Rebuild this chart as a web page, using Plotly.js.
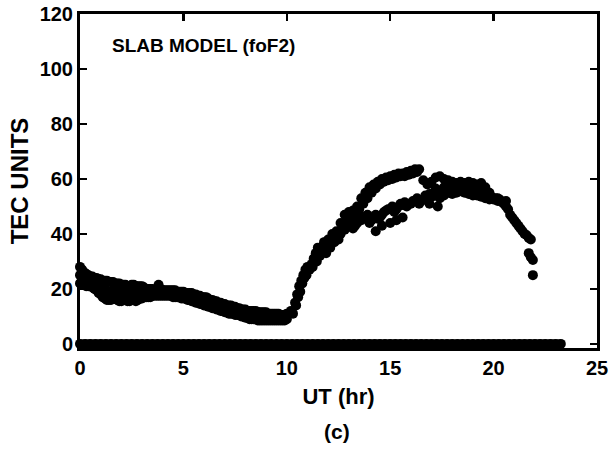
<!DOCTYPE html>
<html>
<head>
<meta charset="utf-8">
<script src="https://cdn.plot.ly/plotly-3.0.1.min.js"></script>
<style>
html,body{margin:0;padding:0;background:#fff;}
.xtick text, .ytick text, .xtick tspan, .ytick tspan { font-weight: 700 !important; }
</style>
</head>
<body>
<div id="chart" style="width:616px;height:468px;"></div>
<script>
// Early band (0-10 hr): upper, middle, lower rows
const earlyHr    = [0,0.2,0.4,0.6,0.8,1.0,1.2,1.4,1.6,1.8,2.0,2.2,2.4,2.6,2.8,3.0,3.2,3.4,3.6,3.8,4.0,4.2,4.4,4.6,4.8,5.0,5.2,5.4,5.6,5.8,6.0,6.2,6.4,6.6,6.8,7.0,7.2,7.4,7.6,7.8,8.0,8.2,8.4,8.6,8.8,9.0,9.2,9.4,9.6,9.8,10.0];
const earlyUpper = [28,26,25,24.5,24,23.5,23,22.5,22.5,22,21.5,21.5,21,21.5,21,21,20,20,19.5,21.5,19.5,19.5,19.5,19.5,19,19,18.5,18.5,18,17.5,17,16.5,16,15.5,15,14.5,14,13.5,13,12.5,12.5,12,12,11.5,11.5,11.5,11,11,11,10.5,11];
const earlyMid   = [25,24,23,22.5,22,21,20,19,19.5,19,18.5,19,18,19,18.5,19,18.5,18.5,18.5,19.5,18.5,18.5,18.5,18,18,17.5,17,17,16.5,16,15.5,15,14.5,14,13.5,13,12.5,12,12,11.5,11,10.5,10.5,10,10,10,9.5,9.5,9.5,9.5,10];
const earlyLower = [22,21.5,21,20.5,19.5,18,16.5,16,16.5,16,15.5,16,15.5,16,16,16.5,17,17,17.5,17.5,17.5,17.5,17.5,17,17,16.5,16,15.5,15,14.5,14,13.5,13,12.5,12,11.5,11,11,10.5,10,9.5,9,9,8.5,8.5,8.5,8.5,8.5,8.5,8.5,9];

// Early band, in-between samples
const earlyHr2    = [0.1,0.3,0.5,0.7,0.9,1.1,1.3,1.5,1.7,1.9,2.1,2.3,2.5,2.7,2.9,3.1,3.3,3.5,3.7,3.9,4.1,4.3,4.5,4.7,4.9,5.1,5.3,5.5,5.7,5.9,6.1,6.3,6.5,6.7,6.9,7.1,7.3,7.5,7.7,7.9,8.1,8.3,8.5,8.7,8.9,9.1,9.3,9.5,9.7,9.9];
const earlyUpper2 = [27,25.5,24.5,24,23.5,23,23,22.5,22,22,21.5,21,21.5,21,21,20.5,20,20,20,20,19.5,19.5,19.5,19,19,18.5,18.5,18,17.5,17,17,16,15.5,15,14.5,14,14,13.5,13,12.5,12,12,12,11.5,11.5,11,11,11,10.5,10.5];
const earlyLower2 = [21.5,21,21,20,18.5,17,16,16,16.5,15.5,16,15.5,16,15.5,16.5,17,17,17.5,17.5,17.5,17.5,17.5,17,17,16.5,16.5,16,15.5,15,14.5,14,13.5,13,12.5,12,11.5,11,10.5,10.5,10,9.5,9,9,8.5,8.5,8.5,8.5,8.5,8.5,8.5];

// Rise and upper branch (10.2-16.4 hr)
const riseHr  = [10.2,10.4,10.5,10.6,10.7,10.8,10.9,11.0,11.2,11.3,11.4,11.5,11.7,11.8,12.0,12.2,12.4,12.6,12.8,13.0,13.2,13.4,13.6,13.8,14.0,14.2,14.4,14.6,14.8,15.0,15.2,15.4,15.6,15.8,16.0,16.2,16.4];
const riseVal = [12,15,18,21,23,25,27,28,29,31,33,35,34,37,38,40,41,44,47,48,48.5,50,53,55,57,58,59,60,60.5,61,61.5,62,62,62.5,63,63.5,63.5];
const riseHr2  = [10.3,10.45,10.55,10.65,10.75,10.85,10.95,11.1,11.25,11.45,11.6,11.9,12.1,12.3,12.5,12.7,12.9,13.1,13.3,13.5,13.7,13.9,14.1,14.3,14.5,14.7,14.9,15.1,15.3,15.5,15.7,15.9,16.1,16.3];
const riseVal2 = [11,14,17,19,22,24,25,27,28,30,32,33,35,37,38,43,45,46,47,49,51,53,55,56.5,58,59,59.5,60,60.5,61,61,61.5,62,62.5];

// Lower branch (12-21.8 hr)
const lowHr  = [12.0,12.4,12.6,12.8,13.0,13.2,13.4,13.6,13.8,14.0,14.2,14.4,14.6,14.8,15.0,15.2,15.4,15.6,15.8,16.0,16.2,16.4,16.6,16.8,17.0,17.2,17.4,17.6,17.8,18.0,18.2,18.4,18.6,18.8,19.0,19.2,19.4,19.6,19.8,20.0,20.2,20.4,20.6,20.8,21.0,21.2,21.4,21.6,21.8];
const lowVal = [36,38,40,41.5,43,42,44,45,46,44,46,45.5,47,48.5,49,48,50,50.5,50,51,52,51,52.5,53,53.5,54,53,54,55,54.5,55,55.5,55,54.5,54,54,53.5,53,52.5,52.5,52,51.5,50,47,45,43,41,39.5,38];
const lowHr2  = [13.1,13.3,13.5,13.7,13.9,14.1,14.3,14.5,14.7,14.9,15.1,15.3,15.5,15.7,15.9,16.1,16.3,16.5,16.7,16.9,17.1,17.3,17.5,17.7,17.9,18.1,18.3,18.5,18.7,18.9,19.1,19.3,19.5,19.7,19.9,20.1,20.3,20.5,20.7,20.9,21.1,21.3,21.5,21.7];
const lowVal2 = [44,43,45.5,46,47,45,47,46,48,49,50,49,51,51.5,51,52,53,52,54,54.5,55,55,55,55.5,56,56,56,56.5,56,56,55.5,55,54.5,54,53.5,53,52.5,51,49,46,44,42,40,38.5];

// Scattered points within lower cluster
const scatHr  = [14.3,14.6,15.0,15.3,15.6,13.1,13.5,16.9,17.3];
const scatVal = [41,43,44,45,46,45,47,51,50];

// Second upper branch (16.6-19.8 hr) and fill
const up2Hr  = [16.6,16.8,17.0,17.2,17.4,17.6,17.8,18.0,18.2,18.4,18.6,18.8,19.0,19.2,19.4,19.6,19.8,17.2,17.6,18.0,18.4,18.8,19.2,19.6,20.2,20.6];
const up2Val = [59.5,58,59,60.5,61,60,59.5,59,58.5,59,58.5,59,58.5,58,58.5,57,55,56.5,57,57,57.5,57,56.5,55.5,53,52];

// Isolated end points
const endHr  = [21.7,21.8,21.9,21.9];
const endVal = [33,31.5,30.5,25];

// Zero-valued points
const zeroHr = [0,0.25,0.5,0.75,1,1.25,1.5,1.75,2,2.25,2.5,2.75,3,3.25,3.5,3.75,4,4.25,4.5,4.75,5,5.25,5.5,5.75,6,6.25,6.5,6.75,7,7.25,7.5,7.75,8,8.25,8.5,8.75,9,9.25,9.5,9.75,10,10.25,10.5,10.75,11,11.25,11.5,11.75,12,12.25,12.5,12.75,13,13.25,13.5,13.75,14,14.25,14.5,14.75,15,15.25,15.5,15.75,16,16.25,16.5,16.75,17,17.25,17.5,17.75,18,18.25,18.5,18.75,19,19.25,19.5,19.75,20,20.25,20.5,20.75,21,21.25,21.5,21.75,22,22.25,22.5,22.75,23,23.25];
const zeroVal = zeroHr.map(() => 0);

const xTicks = [0,5,10,15,20,25];
const yTicks = [0,20,40,60,80,100,120];

const allHr = [].concat(earlyHr, earlyHr, earlyHr, earlyHr2, earlyHr2, riseHr, riseHr2, lowHr, lowHr2, scatHr, up2Hr, endHr);
const allVal = [].concat(earlyUpper, earlyMid, earlyLower, earlyUpper2, earlyLower2, riseVal, riseVal2, lowVal, lowVal2, scatVal, up2Val, endVal);

const mk = {color:'#000', size:10, line:{width:0}};
const data = [
  {x: allHr, y: allVal, type:'scatter', mode:'markers', marker: mk, cliponaxis:false},
  {x: zeroHr, y: zeroVal, type:'scatter', mode:'lines+markers', marker: mk, line:{color:'#000', width:9}, cliponaxis:false}
];

const fontFam = '"Liberation Sans", Arial, Helvetica, sans-serif';
const axisCommon = {
  showline:true, linewidth:3, linecolor:'#000', mirror:'ticks',
  ticks:'inside', ticklen:7, tickwidth:2.5, tickcolor:'#000',
  showgrid:false, zeroline:false,
  tickfont:{family:fontFam, size:20, color:'#000', weight:'bold'}
};

const layout = {
  width:616, height:468,
  margin:{l:80, r:19, t:14, b:120},
  paper_bgcolor:'#fff', plot_bgcolor:'#fff',
  showlegend:false,
  font:{family:fontFam, color:'#000'},
  xaxis: Object.assign({}, axisCommon, {
    range:[0,25], tickvals:xTicks, ticktext:xTicks.map(String),
    title:{text:'<b>UT (hr)</b>', font:{family:fontFam, size:22, color:'#000'}, standoff:11}
  }),
  yaxis: Object.assign({}, axisCommon, {
    range:[-1.5,120], tickvals:yTicks, ticktext:yTicks.map(String),
    title:{text:'<b>TEC UNITS</b>', font:{family:fontFam, size:24, color:'#000'}, standoff:5}
  }),
  annotations:[
    {text:'<b>SLAB MODEL (foF2)</b>', xref:'paper', yref:'paper', x:0.058, y:0.905, xanchor:'left', yanchor:'middle', showarrow:false,
     font:{family:fontFam, size:19, color:'#000'}},
    {text:'<b>(c)</b>', xref:'paper', yref:'paper', x:0.497, y:-0.249, xanchor:'center', yanchor:'middle', showarrow:false,
     font:{family:fontFam, size:21, color:'#000'}}
  ]
};

Plotly.newPlot('chart', data, layout, {staticPlot:true, displayModeBar:false});
</script>
</body>
</html>
